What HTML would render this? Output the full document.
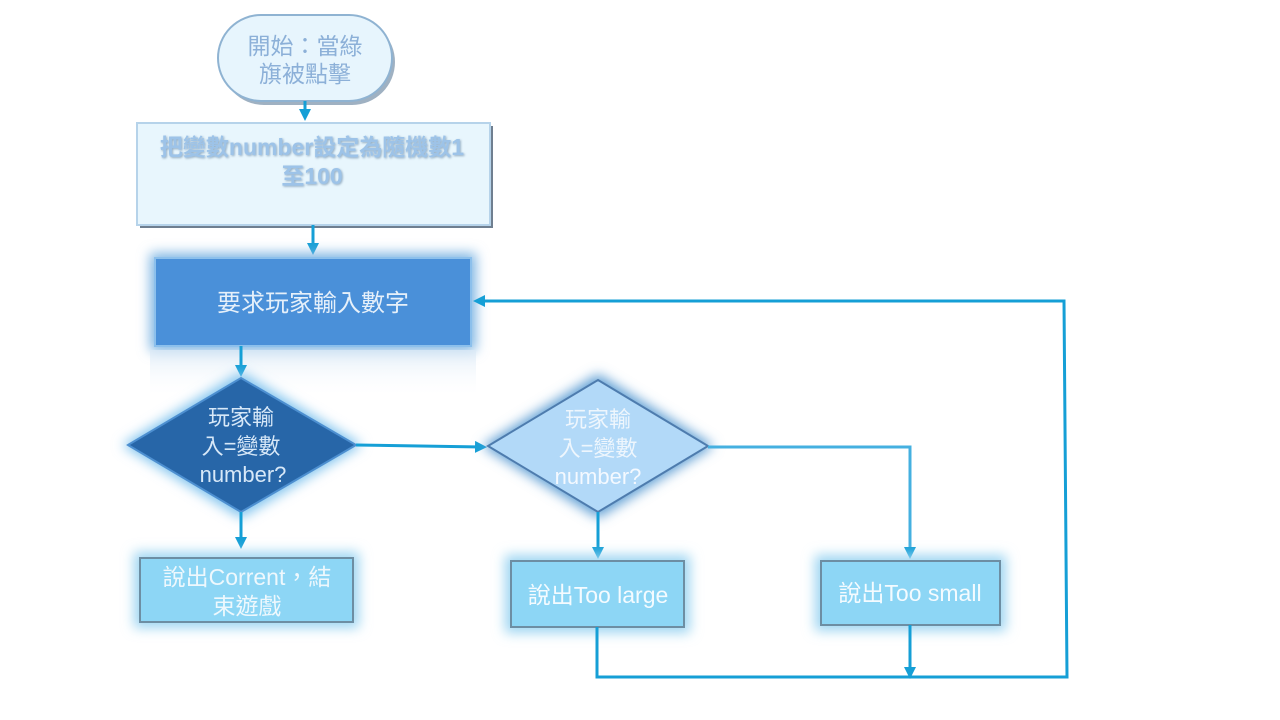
<!DOCTYPE html>
<html><head><meta charset="utf-8"><style>
html,body{margin:0;padding:0;background:#fff;width:1280px;height:720px;overflow:hidden}
svg{display:block}
text{font-family:"Liberation Sans","Noto Sans CJK TC",sans-serif;text-anchor:middle}
</style></head><body>
<svg width="1280" height="720" viewBox="0 0 1280 720" xmlns="http://www.w3.org/2000/svg">
<defs>
<filter id="glow" x="-20%" y="-30%" width="140%" height="160%"><feGaussianBlur stdDeviation="6"/></filter>
<filter id="ts" x="-10%" y="-30%" width="120%" height="160%"><feDropShadow dx="1" dy="1" stdDeviation="1" flood-color="#6a8aa8" flood-opacity="0.7"/></filter>
<linearGradient id="refl" x1="0" y1="0" x2="0" y2="1"><stop offset="0" stop-color="#dbe9f6" stop-opacity="0.8"/><stop offset="1" stop-color="#fff" stop-opacity="0"/></linearGradient>
<marker id="ah" markerWidth="12" markerHeight="12" refX="7" refY="6" orient="auto" markerUnits="userSpaceOnUse"><path d="M0,0 L12,6 L0,12 z" fill="#159fd6"/></marker>
</defs>

<rect x="221" y="19" width="174" height="86" rx="43" fill="#5f7d99" opacity="0.6"/>
<rect x="218" y="15" width="174" height="86" rx="43" fill="#e7f5fd" stroke="#8fb3d2" stroke-width="2"/>
<text x="305" y="54" font-size="23" fill="#8cb0d8">開始：當綠</text>
<text x="305" y="82" font-size="23" fill="#8cb0d8">旗被點擊</text>
<line x1="305" y1="101" x2="305" y2="116" stroke="#159fd6" stroke-width="3" marker-end="url(#ah)"/>

<rect x="140" y="126" width="353" height="102" fill="#6f7f90"/>
<rect x="137" y="123" width="353" height="102" fill="#e8f6fd" stroke="#b6d3ea" stroke-width="2"/>
<text x="312" y="155" font-size="23" font-weight="bold" fill="#9dc3e8" filter="url(#ts)">把變數number設定為隨機數1</text>
<text x="312" y="184" font-size="23" font-weight="bold" fill="#9dc3e8" filter="url(#ts)">至100</text>
<line x1="313" y1="225" x2="313" y2="250" stroke="#159fd6" stroke-width="3" marker-end="url(#ah)"/>

<rect x="150" y="253" width="326" height="98" fill="#7fb6e3" filter="url(#glow)"/>
<rect x="150" y="350" width="326" height="48" fill="url(#refl)"/>
<rect x="155" y="258" width="316" height="88" fill="#4a90d9" stroke="#8cc0ec" stroke-width="2"/>
<text x="313" y="311" font-size="24" fill="#e6f0fa">要求玩家輸入數字</text>
<line x1="241" y1="346" x2="241" y2="372" stroke="#159fd6" stroke-width="3" marker-end="url(#ah)"/>

<polygon points="241,372 362,445 241,518 122,445" fill="#7fc3ee" filter="url(#glow)"/>
<polygon points="241,378 356,445 241,512 128,445" fill="#2766a8" stroke="#4d8fd0" stroke-width="2"/>
<text x="241" y="425" font-size="22" fill="#d7e8f8">玩家輸</text>
<text x="241" y="454" font-size="22" fill="#d7e8f8">入=變數</text>
<text x="243" y="482" font-size="22" fill="#d7e8f8">number?</text>

<line x1="356" y1="445" x2="482" y2="447" stroke="#159fd6" stroke-width="3" marker-end="url(#ah)"/>
<line x1="241" y1="512" x2="241" y2="544" stroke="#159fd6" stroke-width="3" marker-end="url(#ah)"/>

<polygon points="598,374 714,446 598,518 482,446" fill="#5f9fd4" filter="url(#glow)"/>
<polygon points="598,380 708,446 598,512 488,446" fill="#b2d9f8" stroke="#4e7cae" stroke-width="2"/>
<text x="598" y="427" font-size="22" fill="#eef6fd">玩家輸</text>
<text x="598" y="456" font-size="22" fill="#eef6fd">入=變數</text>
<text x="598" y="484" font-size="22" fill="#f4f9ff">number?</text>

<polyline points="708,447 910,447 910,554" fill="none" stroke="#45b0e0" stroke-width="3" marker-end="url(#ah)"/>
<line x1="598" y1="512" x2="598" y2="554" stroke="#159fd6" stroke-width="3" marker-end="url(#ah)"/>

<rect x="134" y="552" width="225" height="76" fill="#9ed6f2" filter="url(#glow)"/>
<rect x="140" y="558" width="213" height="64" fill="#8dd6f5" stroke="#6d8ea3" stroke-width="2"/>
<text x="247" y="585" font-size="23" fill="#eef8fd">說出Corrent，結</text>
<text x="247" y="614" font-size="23" fill="#eef8fd">束遊戲</text>

<rect x="505" y="555" width="185" height="78" fill="#9ed6f2" filter="url(#glow)"/>
<rect x="511" y="561" width="173" height="66" fill="#8dd6f5" stroke="#6d8ea3" stroke-width="2"/>
<text x="598" y="603" font-size="23" fill="#f4fbff">說出Too large</text>

<rect x="815" y="555" width="191" height="76" fill="#9ed6f2" filter="url(#glow)"/>
<rect x="821" y="561" width="179" height="64" fill="#8dd6f5" stroke="#6d8ea3" stroke-width="2"/>
<text x="910" y="601" font-size="23" fill="#f4fbff">說出Too small</text>

<polyline points="597,627 597,677 1067,677 1064,301 478,301" fill="none" stroke="#159fd6" stroke-width="3" marker-end="url(#ah)"/>
<line x1="910" y1="625" x2="910" y2="674" stroke="#159fd6" stroke-width="3" marker-end="url(#ah)"/>
</svg>
</body></html>
